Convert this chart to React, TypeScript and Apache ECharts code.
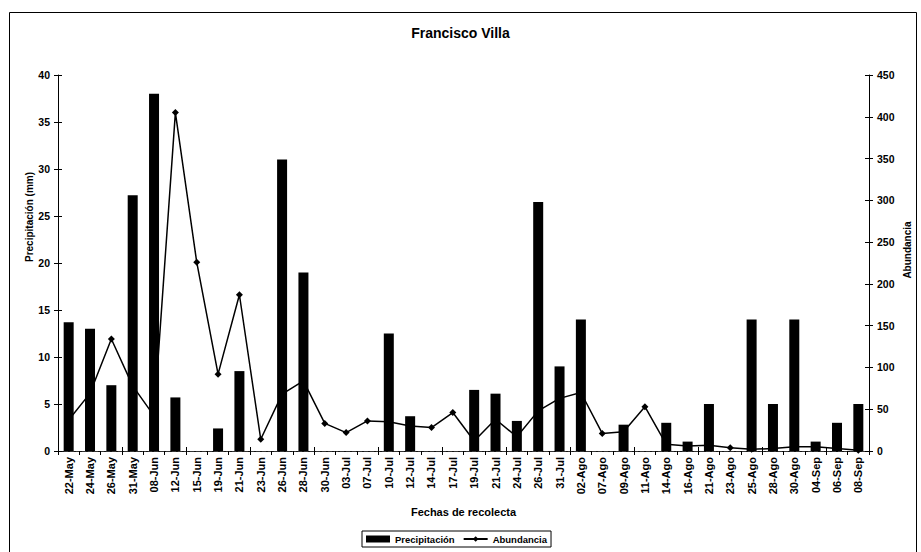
import React, { useEffect, useRef } from 'react';
import * as echarts from 'echarts';

const categories = ['22-May','24-May','26-May','31-May','08-Jun','12-Jun','15-Jun','19-Jun','21-Jun','23-Jun','26-Jun','28-Jun','30-Jun','03-Jul','07-Jul','10-Jul','12-Jul','14-Jul','17-Jul','19-Jul','21-Jul','24-Jul','26-Jul','31-Jul','02-Ago','07-Ago','09-Ago','11-Ago','14-Ago','16-Ago','21-Ago','23-Ago','25-Ago','28-Ago','30-Ago','04-Sep','06-Sep','08-Sep'];

const precipitacion = [13.7,13,7,27.2,38,5.7,0,2.4,8.5,0,31,19,0,0,0,12.5,3.7,0,0,6.5,6.1,3.2,26.5,9,14,0,2.8,0,3,1,5,0,14,5,14,1,3,5];

const abundancia = [37,69,134,78,42,405,226,92,187,14,68,84,33,22,36,35,30,28,46,12,38,17,48,63,70,21,23,53,8,6,7,4,2,3,5,5,3,1];

const leftAxis = { min: 0, max: 40, interval: 5 };
const rightAxis = { min: 0, max: 450, interval: 50 };

const FONT = '"Liberation Sans", Arial, Helvetica, sans-serif';

export default function App() {
  const ref = useRef<HTMLDivElement>(null);
  useEffect(() => {
    const chart = echarts.init(ref.current!, null, { renderer: 'svg' });
    const axisLine = { show: true, lineStyle: { color: '#000', width: 1 } };
    const labelStyle = { color: '#000', fontFamily: FONT, fontWeight: 'bold' as const, fontSize: 10 };
    chart.setOption({
      animation: false,
      backgroundColor: '#fff',
      textStyle: { fontFamily: FONT },
      title: {
        text: 'Francisco Villa',
        left: 'center',
        top: 21,
        textStyle: { fontFamily: FONT, fontWeight: 'bold', fontSize: 14, color: '#000' },
      },
      legend: {
        left: 362,
        top: 531,
        borderColor: '#000',
        borderWidth: 1,
        padding: [3, 4, 3, 4],
        itemGap: 8,
        itemWidth: 24,
        itemHeight: 7,
        textStyle: { fontFamily: FONT, fontWeight: 'bold', fontSize: 9.5, color: '#000' },
        data: [
          { name: 'Precipitación', icon: 'rect' },
          { name: 'Abundancia' },
        ],
      },
      grid: { left: 58, right: 52, top: 75, bottom: 101, containLabel: false },
      xAxis: [
        {
          type: 'category',
          data: categories,
          boundaryGap: true,
          position: 'bottom',
          axisLine,
          axisTick: { show: true, length: 4, lineStyle: { color: '#000' } },
          axisLabel: { ...labelStyle, fontSize: 11, rotate: 90, margin: 6, interval: 0 },
          name: 'Fechas de recolecta',
          nameLocation: 'middle',
          nameGap: 55,
          nameTextStyle: { ...labelStyle, fontSize: 11 },
        },
        {
          type: 'category',
          data: categories,
          position: 'top',
          axisLine: { show: true, lineStyle: { color: '#333', width: 1, type: 'dashed' } },
          axisTick: { show: false },
          axisLabel: { show: false },
        },
        {
          type: 'category',
          data: categories,
          position: 'bottom',
          axisLine: { show: false },
          axisTick: { show: true, inside: true, length: 4, lineStyle: { color: '#000' } },
          axisLabel: { show: false },
        },
      ],
      yAxis: [
        {
          type: 'value',
          position: 'left',
          ...leftAxis,
          axisLine,
          axisTick: { show: true, length: 4, lineStyle: { color: '#000' } },
          axisLabel: { ...labelStyle, fontSize: 10.5, margin: 8 },
          splitLine: { show: false },
          name: 'Precipitación (mm)',
          nameLocation: 'middle',
          nameRotate: 90,
          nameGap: 24,
          nameMoveOverlap: false,
          nameTextStyle: { ...labelStyle, fontSize: 10, padding: [0, 0, 0, 92] },
        },
        {
          type: 'value',
          position: 'right',
          ...rightAxis,
          axisLine,
          axisTick: { show: true, length: 4, lineStyle: { color: '#000' } },
          axisLabel: { ...labelStyle, fontSize: 10.5, margin: 8 },
          splitLine: { show: false },
          name: 'Abundancia',
          nameLocation: 'middle',
          nameRotate: 90,
          nameGap: 33,
          nameMoveOverlap: false,
          nameTextStyle: { ...labelStyle, fontSize: 10, padding: [0, 0, 0, 26] },
        },
        {
          type: 'value',
          position: 'left',
          ...leftAxis,
          axisLine: { show: false },
          axisTick: { show: true, inside: true, length: 4, lineStyle: { color: '#000' } },
          axisLabel: { show: false },
          splitLine: { show: false },
        },
        {
          type: 'value',
          position: 'right',
          ...rightAxis,
          axisLine: { show: false },
          axisTick: { show: true, inside: true, length: 4, lineStyle: { color: '#000' } },
          axisLabel: { show: false },
          splitLine: { show: false },
        },
      ],
      series: [
        {
          name: 'Precipitación',
          type: 'bar',
          xAxisIndex: 0,
          yAxisIndex: 0,
          data: precipitacion,
          barWidth: 10,
          itemStyle: { color: '#000' },
          z: 3,
        },
        {
          name: 'Abundancia',
          type: 'line',
          xAxisIndex: 0,
          yAxisIndex: 1,
          data: abundancia,
          symbol: 'diamond',
          symbolSize: 7,
          showAllSymbol: true,
          lineStyle: { color: '#000', width: 1.5 },
          itemStyle: { color: '#000' },
          z: 2,
        },
      ],
      graphic: [
        {
          type: 'rect',
          left: 7,
          top: 10,
          shape: { width: 907, height: 570 },
          style: { fill: 'none', stroke: '#000', lineWidth: 1 },
          silent: true,
        },
      ],
    });
    return () => chart.dispose();
  }, []);
  return (
    <div
      ref={ref}
      style={{ position: 'absolute', left: 0, top: 0, width: 921, height: 552, background: '#fff' }}
    />
  );
}
